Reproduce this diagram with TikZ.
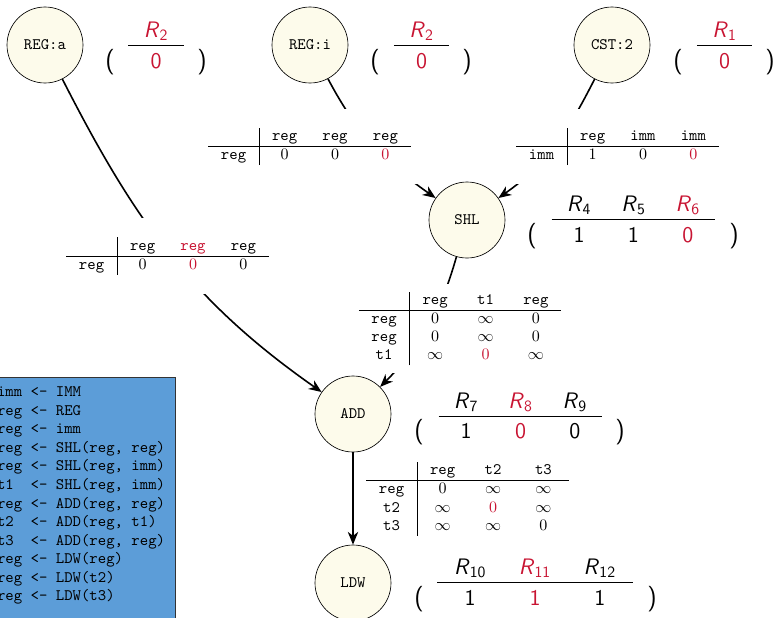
\documentclass[tikz,border=0pt]{standalone}
\usepackage{array}
\usetikzlibrary{shapes,arrows.meta,calc}
\definecolor{cream}{RGB}{253,251,235}
\definecolor{picked}{RGB}{200,20,50}
\definecolor{codeblue}{RGB}{92,157,216}
\setlength{\tabcolsep}{0pt}
\renewcommand{\arraystretch}{0.95}
\newcolumntype{C}{wc{31.5pt}}
\newcommand{\Rn}[1]{\textit{R}\textsubscript{#1}}
\newcommand{\cell}[2][34pt]{\makebox[#1]{#2}}
\newcommand{\hot}[1]{\textcolor{picked}{#1}}
\tikzstyle{line} = [draw, line width=1pt, -{Stealth[length=8pt, width=6.5pt, inset=2.5pt]}]
\tikzstyle{op} = [draw, circle, fill=cream, minimum size=47.5pt, inner sep=0pt, font=\ttfamily]
\tikzstyle{costs} = [fill=white, inner sep=12pt]
\tikzstyle{num} = [anchor=base, inner sep=0pt, font=\sffamily\fontsize{14}{17}\selectfont]
\tikzstyle{paren} = [anchor=base, inner sep=0pt, font=\sffamily\fontsize{16}{19}\selectfont]
\tikzstyle{bar} = [draw, semithick]

\begin{document}
\begin{tikzpicture}[x=0.625pt, y=-0.625pt]
    \useasboundingbox (0,0) rectangle (775,618);
    \clip (0,0) rectangle (775,618);
    % rule list
    \path[fill=codeblue, draw=black!80] (-10,377) rectangle (175,640);
    \node[anchor=north east, inner sep=6pt, align=left, font=\ttfamily\fontsize{10}{11.6}\selectfont] (rules) at (175,377) {%
        imm <- IMM\\
        reg <- REG\\
        reg <- imm\\
        reg <- SHL(reg, reg)\\
        reg <- SHL(reg, imm)\\
        t1\ \ <- SHL(reg, imm)\\
        reg <- ADD(reg, reg)\\
        t2\ \ <- ADD(reg, t1)\\
        t3\ \ <- ADD(reg, reg)\\
        reg <- LDW(reg)\\
        reg <- LDW(t2)\\
        reg <- LDW(t3)};
    % operations
    \node[op] (rega) at (45,45) {REG:a};
    \node[op] (regi) at (310,45) {REG:i};
    \node[op] (cst) at (612,45) {CST:2};
    \node[op] (shl) at (467,220) {SHL};
    \node[op] (add) at (353,414) {ADD};
    \node[op] (ldw) at (353,583) {LDW};
    % edges
    \path[line] (rega) to[out=-63, in=145] (add);
    \path[line] (regi) to[out=-62, in=145] (shl);
    \path[line] (cst) to[out=-117, in=35] (shl);
    \path[line] (shl) to[out=-106, in=45] (add);
    \path[line] (add) -- (ldw);
    % cost tables
    \node[costs] (regiTab) at (309.5,146.5) {\begin{tabular}{C|CCC}
        & \texttt{reg} & \texttt{reg} & \texttt{reg}\\ \hline
        \texttt{reg} & $0$ & $0$ & \hot{$0$}
    \end{tabular}};
    \node[costs] (cstTab) at (617.5,146.5) {\begin{tabular}{C|CCC}
        & \texttt{reg} & \texttt{imm} & \texttt{imm}\\ \hline
        \texttt{imm} & $1$ & $0$ & \hot{$0$}
    \end{tabular}};
    \node[costs] (regaTab) at (167.5,256) {\begin{tabular}{C|CCC}
        & \texttt{reg} & \hot{\texttt{reg}} & \texttt{reg}\\ \hline
        \texttt{reg} & $0$ & \hot{$0$} & $0$
    \end{tabular}};
    \node[costs, inner sep=5pt] (shlTab) at (460,328.5) {\begin{tabular}{C|CCC}
        & \texttt{reg} & \texttt{t1} & \texttt{reg}\\ \hline
        \texttt{reg} & $0$ & $\infty$ & $0$\\
        \texttt{reg} & $0$ & $\infty$ & $0$\\
        \texttt{t1} & $\infty$ & \hot{$0$} & $\infty$
    \end{tabular}};
    \node[inner sep=0pt] (addTab) at (467.5,499) {\begin{tabular}{C|CCC}
        & \texttt{reg} & \texttt{t2} & \texttt{t3}\\ \hline
        \texttt{reg} & $0$ & $\infty$ & $\infty$\\
        \texttt{t2} & $\infty$ & \hot{$0$} & $\infty$\\
        \texttt{t3} & $\infty$ & $\infty$ & $0$
    \end{tabular}};
    % cost vectors
    \node[num] (regaR) at (156,37) {\cell{\hot{\Rn{2}}}};
    \node[num] (regaV) at (156,68) {\cell{\hot{0}}};
    \path[bar] ([yshift=-5pt]regaR.base west) -- ([yshift=-5pt]regaR.base east);
    \node[paren] (regaL) at (110,68) {(};
    \node[paren] (regaP) at (202,68) {)};
    \node[num] (regiR) at (421.5,37) {\cell{\hot{\Rn{2}}}};
    \node[num] (regiV) at (421.5,68) {\cell{\hot{0}}};
    \path[bar] ([yshift=-5pt]regiR.base west) -- ([yshift=-5pt]regiR.base east);
    \node[paren] (regiL) at (375,68) {(};
    \node[paren] (regiP) at (467,68) {)};
    \node[num] (cstR) at (724.5,37) {\cell{\hot{\Rn{1}}}};
    \node[num] (cstV) at (724.5,68) {\cell{\hot{0}}};
    \path[bar] ([yshift=-5pt]cstR.base west) -- ([yshift=-5pt]cstR.base east);
    \node[paren] (cstL) at (678,68) {(};
    \node[paren] (cstP) at (770,68) {)};
    \node[num] (shlR) at (633.5,211) {\cell{\Rn{4}}\cell{\Rn{5}}\cell{\hot{\Rn{6}}}};
    \node[num] (shlV) at (633.5,242) {\cell{1}\cell{1}\cell{\hot{0}}};
    \path[bar] ([yshift=-5pt]shlR.base west) -- ([yshift=-5pt]shlR.base east);
    \node[paren] (shlL) at (532,242) {(};
    \node[paren] (shlP) at (734,242) {)};
    \node[num] (addR) at (520.5,408) {\cell{\Rn{7}}\cell{\hot{\Rn{8}}}\cell{\Rn{9}}};
    \node[num] (addV) at (520.5,438) {\cell{1}\cell{\hot{0}}\cell{0}};
    \path[bar] ([yshift=-5pt]addR.base west) -- ([yshift=-5pt]addR.base east);
    \node[paren] (addL) at (419,438) {(};
    \node[paren] (addP) at (620,438) {)};
    \node[num] (ldwR) at (535,574) {\cell[40.5pt]{\Rn{10}}\cell[40.5pt]{\hot{\Rn{11}}}\cell[40.5pt]{\Rn{12}}};
    \node[num] (ldwV) at (535,605) {\cell[40.5pt]{1}\cell[40.5pt]{\hot{1}}\cell[40.5pt]{1}};
    \path[bar] ([yshift=-5pt]ldwR.base west) -- ([yshift=-5pt]ldwR.base east);
    \node[paren] (ldwL) at (419,605) {(};
    \node[paren] (ldwP) at (652,605) {)};
\end{tikzpicture}
\end{document}
